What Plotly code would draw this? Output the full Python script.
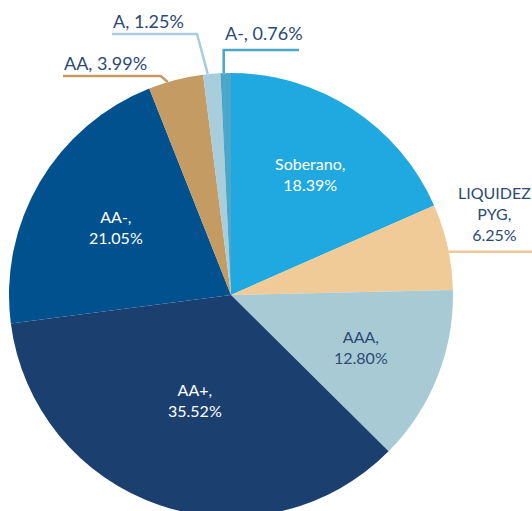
import math
import plotly.graph_objects as go

labels = ["Soberano", "LIQUIDEZ PYG", "AAA", "AA+", "AA-", "AA", "A", "A-"]
values = [18.39, 6.25, 12.80, 35.52, 21.05, 3.99, 1.25, 0.76]
colors = ["#20a8e0", "#f0cb98", "#a8cad5", "#1b406f", "#01518f", "#c49b62", "#a8cddb", "#4ba7c8"]
inside = [True, False, True, True, True, False, False, False]
inside_text_colors = ["#ffffff", "#2c4a73", "#2c4a73", "#ffffff", "#ffffff", "#2c4a73", "#2c4a73", "#2c4a73"]
inside_radius = [0.65, 0, 0.63, 0.50, 0.60, 0, 0, 0]

W, H = 532, 520
CX, CY, R = 231, 295, 222
NAVY = "#2c4a73"
FONT = "Lato"

def px(x):
    return x / W

def py(y):
    return 1 - y / H

fig = go.Figure(go.Pie(
    labels=labels, values=values, textinfo="none",
    sort=False, direction="clockwise", rotation=0,
    marker=dict(colors=colors, line=dict(width=0)),
    domain=dict(x=[px(CX - R), px(CX + R)], y=[py(CY + R), py(CY - R)]),
    showlegend=False, hoverinfo="label+percent",
))

total = sum(values)
cum = 0
mids = {}
for lab, v in zip(labels, values):
    mids[lab] = (cum + v / 2) / total * 2 * math.pi
    cum += v

def point(lab, frac):
    a = mids[lab]
    return (CX + R * frac * math.sin(a), CY - R * frac * math.cos(a))

shapes = []
annotations = []

def path(pts, color):
    d = "M " + " L ".join(f"{px(x)},{py(y)}" for x, y in pts)
    shapes.append(dict(type="path", path=d, xref="paper", yref="paper",
                       line=dict(color=color, width=2.5), layer="above"))

def label(text, x, y, xanchor, size=18, color=NAVY):
    annotations.append(dict(text=text, x=px(x), y=py(y), xref="paper", yref="paper",
                            xanchor=xanchor, yanchor="middle", showarrow=False, align="center",
                            font=dict(family=FONT, size=size, color=color)))

def pct(lab):
    return f"{values[labels.index(lab)]:.2f}%"

# inside labels
for lab, v, ins, col, rf in zip(labels, values, inside, inside_text_colors, inside_radius):
    if ins:
        x, y = point(lab, rf)
        label(f"{lab},<br>{v:.2f}%", x, y, "center", size=16, color=col)

# LIQUIDEZ PYG
ex, ey = point("LIQUIDEZ PYG", 1)
path([(ex, ey + 5), (W + 5, ey + 5)], colors[1])
label(f"LIQUIDEZ<br>PYG,<br>{pct('LIQUIDEZ PYG')}", 494, 213, "center", size=16)
# AA
ex, ey = point("AA", 1)
path([(ex - 8, ey + 2), (ex - 15, ey - 4), (63, ey - 4)], colors[5])
label(f"AA, {pct('AA')}", 62, 63, "left")
# A
ex, ey = point("A", 1)
path([(ex - 4, ey), (197, 34), (112, 34)], colors[6])
label(f"A, {pct('A')}", 111, 21, "left")
# A-
ex, ey = point("A-", 1)
path([(ex - 2, ey), (ex - 2, 50), (299, 50)], colors[7])
label(f"A-, {pct('A-')}", 223, 33, "left")

fig.update_layout(
    width=W, height=H, margin=dict(l=0, r=0, t=0, b=0),
    paper_bgcolor="white", plot_bgcolor="white",
    shapes=shapes, annotations=annotations,
)

fig.write_html("out.html", config={"displayModeBar": False},
               post_script="document.body.style.margin='0';document.body.style.overflow='hidden';")
